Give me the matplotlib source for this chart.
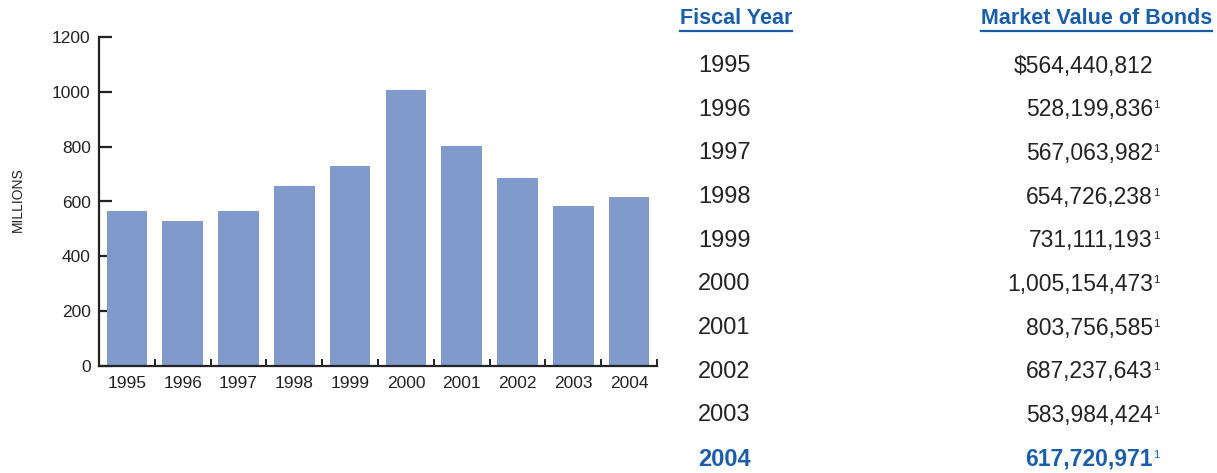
import matplotlib
matplotlib.use("Agg")
import matplotlib.pyplot as plt
from matplotlib import font_manager
from matplotlib.lines import Line2D
import numpy as np

# --- data -------------------------------------------------------------
years = ["1995", "1996", "1997", "1998", "1999",
         "2000", "2001", "2002", "2003", "2004"]
market_values = [564440812, 528199836, 567063982, 654726238, 731111193,
                 1005154473, 803756585, 687237643, 583984424, 617720971]
footnote_marks = ["", "1", "1", "1", "1", "1", "1", "1", "1", "1"]
y_ticks = [0, 200, 400, 600, 800, 1000, 1200]
y_label = "MILLIONS"
table_headers = ["Fiscal Year", "Market Value of Bonds"]

# --- style ------------------------------------------------------------
available = {f.name for f in font_manager.fontManager.ttflist}
FONT = "Liberation Sans Narrow" if "Liberation Sans Narrow" in available else "Liberation Sans"
plt.rcParams["font.family"] = [FONT, "DejaVu Sans"]

BAR = "#7f9acb"
INK = "#232323"
BLUE = "#1a5ea9"

W, H = 1217, 473
fig = plt.figure(figsize=(W / 100, H / 100), dpi=100)


def fx(px):
    return px / W


def fy(py):
    return 1 - py / H


# --- bar chart --------------------------------------------------------
ax = fig.add_axes([fx(99), fy(366), fx(657) - fx(99), fy(37) - fy(366)])
heights = [v / 1e6 for v in market_values]
x = np.arange(len(years))
ax.bar(x, heights, width=0.73, color=BAR, zorder=2)

ax.set_xlim(-0.5, len(years) - 0.5)
ax.set_ylim(y_ticks[0], y_ticks[-1])

for side in ("top", "right"):
    ax.spines[side].set_visible(False)
for side in ("left", "bottom"):
    ax.spines[side].set_linewidth(1.6)
    ax.spines[side].set_color(INK)

ax.set_yticks(y_ticks)
ax.set_yticklabels([str(t) for t in y_ticks])
ax.tick_params(axis="y", direction="in", length=9.5, width=1.6, color=INK,
               labelsize=12.5, labelcolor=INK, pad=6)

ax.set_xticks(x)
ax.set_xticklabels(years)
ax.tick_params(axis="x", which="major", length=0, labelsize=12.5,
               labelcolor=INK, pad=7)
ax.set_xticks(np.arange(len(years) + 1) - 0.5, minor=True)
ax.tick_params(axis="x", which="minor", direction="in", length=5,
               width=1.4, color=INK)

fig.text(fx(18), fy(200), y_label, rotation=90, ha="center", va="center",
         fontsize=10, color=INK)

# --- table ------------------------------------------------------------
header_y = 19
row_y0, row_step = 66, 43.67
year_x = 698
value_right = 1153

h1 = fig.text(fx(680), fy(header_y), table_headers[0], ha="left", va="center",
              fontsize=15.5, fontweight="bold", color=BLUE)
h2 = fig.text(fx(1212), fy(header_y), table_headers[1], ha="right", va="center",
              fontsize=15.5, fontweight="bold", color=BLUE)

for i, (yr, val, mark) in enumerate(zip(years, market_values, footnote_marks)):
    yy = row_y0 + i * row_step
    last = i == len(years) - 1
    weight = "bold" if last else "normal"
    color = BLUE if last else INK
    txt = f"{val:,}"
    if i == 0:
        txt = "$" + txt
    fig.text(fx(year_x), fy(yy), yr, ha="left", va="center",
             fontsize=17, fontweight=weight, color=color)
    fig.text(fx(value_right), fy(yy), txt, ha="right", va="center",
             fontsize=16.5, fontweight=weight, color=color)
    if mark:
        fig.text(fx(value_right + 0.5), fy(yy - 4.5), mark, ha="left",
                 va="center", fontsize=8, color=color)

# underline the column headers
fig.canvas.draw()
renderer = fig.canvas.get_renderer()
for h in (h1, h2):
    bb = h.get_window_extent(renderer)
    ly = fy(31)
    fig.add_artist(Line2D([bb.x0 / W, bb.x1 / W], [ly, ly],
                          transform=fig.transFigure, color=BLUE, lw=1.6))

fig.savefig("out.png", dpi=100)
